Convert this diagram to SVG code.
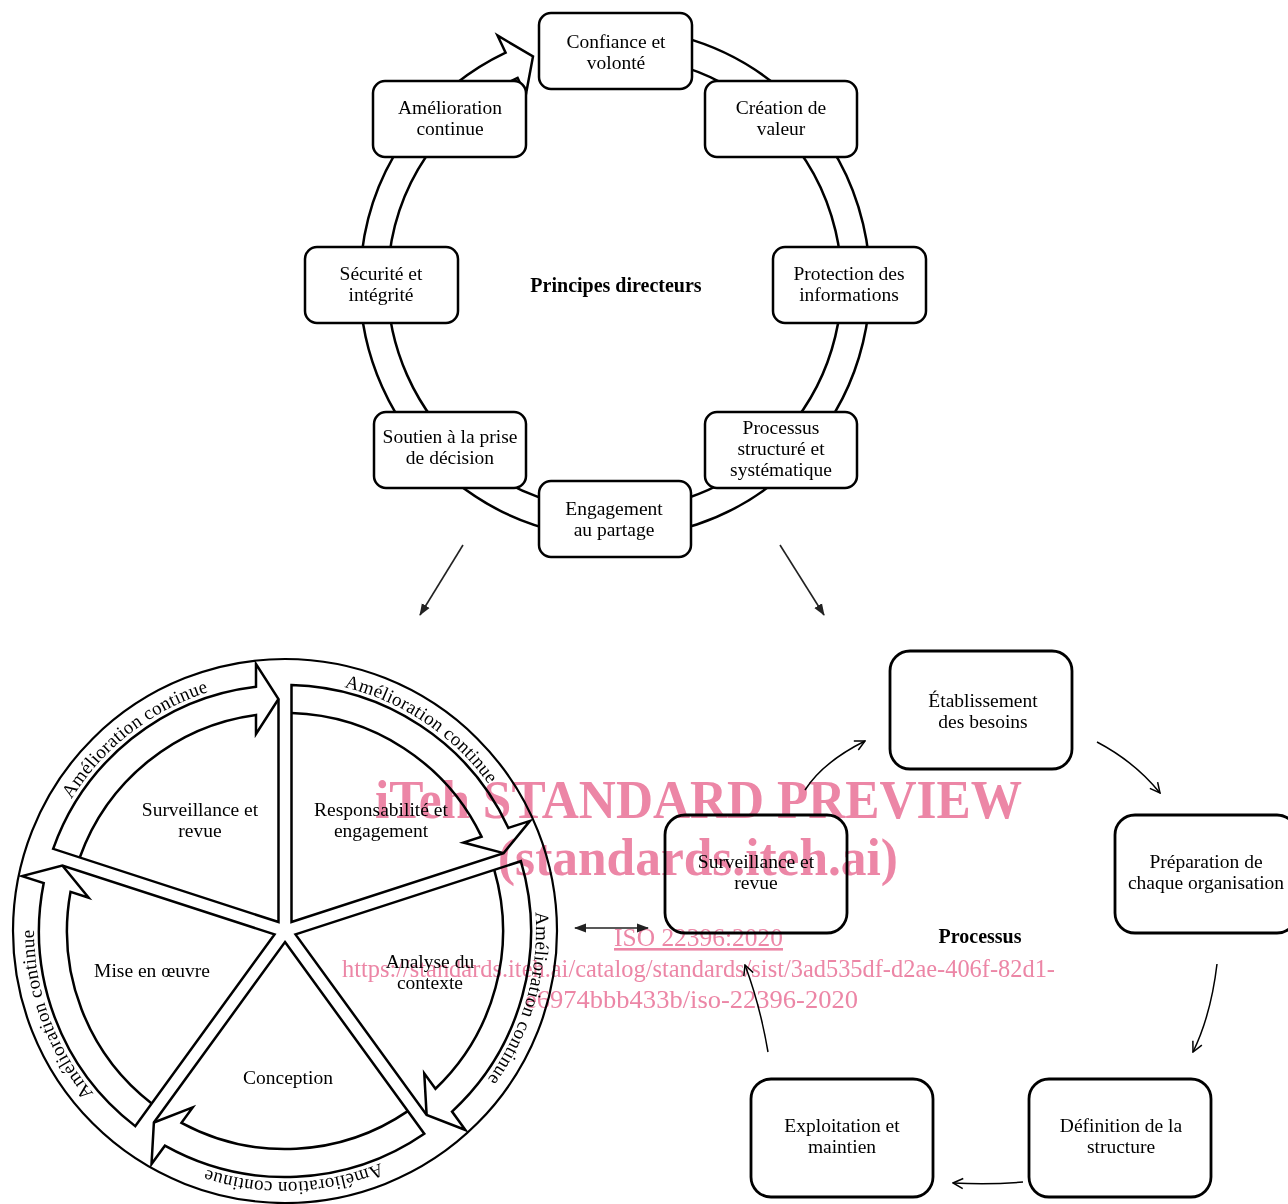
<svg xmlns="http://www.w3.org/2000/svg" xmlns:xlink="http://www.w3.org/1999/xlink" width="1288" height="1204" viewBox="0 0 1288 1204">
<style>
.box{fill:#fff;stroke:#000;stroke-width:2.5}
.pbox{fill:#fff;stroke:#000;stroke-width:2.8}
.lbl{font-family:"Liberation Serif",serif;font-size:19.5px;text-anchor:middle;fill:#000}
.bold{font-weight:bold;font-size:20px}
.ring{font-family:"Liberation Serif",serif;font-size:19px;letter-spacing:0.3px;fill:#000}
.pc{fill:#fff;stroke:#000;stroke-width:2.5;stroke-linejoin:miter}
.pl{fill:none;stroke:#000;stroke-width:2.5;stroke-linejoin:miter}
.conn{fill:none;stroke:#000;stroke-width:1.5}
.dk{fill:none;stroke:#222;stroke-width:1.6}
.wm{fill:#ec86a6;font-family:"Liberation Serif",serif;mix-blend-mode:multiply}
</style>
<defs>
<marker id="fa" viewBox="0 0 12 10" refX="11" refY="5" markerWidth="12" markerHeight="10" markerUnits="userSpaceOnUse" orient="auto-start-reverse"><path d="M0,0.5 L12,5 L0,9.5 Z" fill="#222"/></marker>
<marker id="oa" viewBox="0 0 12 12" refX="11" refY="6" markerWidth="12" markerHeight="12" markerUnits="userSpaceOnUse" orient="auto"><path d="M1,1 L11,6 L1,11" fill="none" stroke="#000" stroke-width="1.5"/></marker>
<g id="piece">
<path class="pc" d="M6.5,-8.95 L6.5,-245.91 A246,246 0 0,1 223.37,-103.07 L244.97,-110.09 L218.64,-77.87 Z"/>
<path class="pl" d="M6.5,-217.9 A218,218 0 0,1 196.53,-94.35 L178.4,-88.46 L218.64,-77.87"/>
</g>
<path id="rp1" d="M35.87,900.41 A251,251 0 0,1 315.59,681.87"/>
<path id="rp2" d="M237.11,684.61 A251,251 0 0,1 531.39,883.11"/>
<path id="rp3" d="M504.53,809.31 A251,251 0 0,1 406.69,1150.53"/>
<path id="rp4" d="M468.57,1102.18 A251,251 0 0,1 113.82,1114.57"/>
<path id="rp5" d="M178.92,1158.48 A251,251 0 0,1 57.52,824.92"/>
</defs>
<rect width="1288" height="1204" fill="#fff"/>

<!-- Top: guiding principles ring -->
<g id="principles-ring">
<path class="pc" d="M562.0,33.6 A255,255 0 1,1 505.6,52.7 L497.5,35.5 L533.0,56.4 L525.8,95.1 L517.6,77.9 A227,227 0 1,0 567.8,61.0 Z"/>
<text class="lbl bold" x="616" y="292">Principes directeurs</text>
</g>
<g id="n-confiance"><rect class="box" x="539" y="13" width="153" height="76" rx="12"/><text class="lbl" x="616" y="47.5">Confiance et<tspan x="616" dy="21">volonté</tspan></text></g>
<g id="n-creation"><rect class="box" x="705" y="81" width="152" height="76" rx="12"/><text class="lbl" x="781" y="113.5">Création de<tspan x="781" dy="21">valeur</tspan></text></g>
<g id="n-amelioration"><rect class="box" x="373" y="81" width="153" height="76" rx="12"/><text class="lbl" x="450" y="113.5">Amélioration<tspan x="450" dy="21">continue</tspan></text></g>
<g id="n-securite"><rect class="box" x="305" y="247" width="153" height="76" rx="12"/><text class="lbl" x="381" y="279.5">Sécurité et<tspan x="381" dy="21">intégrité</tspan></text></g>
<g id="n-protection"><rect class="box" x="773" y="247" width="153" height="76" rx="12"/><text class="lbl" x="849" y="279.5">Protection des<tspan x="849" dy="21">informations</tspan></text></g>
<g id="n-soutien"><rect class="box" x="374" y="412" width="152" height="76" rx="12"/><text class="lbl" x="450" y="442.5">Soutien à la prise<tspan x="450" dy="21">de décision</tspan></text></g>
<g id="n-processus-struct"><rect class="box" x="705" y="412" width="152" height="76" rx="12"/><text class="lbl" x="781" y="433.5">Processus<tspan x="781" dy="21.5">structuré et</tspan><tspan x="781" dy="21">systématique</tspan></text></g>
<g id="n-engagement"><rect class="box" x="539" y="481" width="152" height="76" rx="12"/><text class="lbl" x="614" y="514.5">Engagement<tspan x="614" dy="21">au partage</tspan></text></g>

<!-- Bottom-left: cycle -->
<g id="cycle">
<circle cx="285" cy="931" r="272" fill="#fff" stroke="#000" stroke-width="2.2"/>
<text class="ring"><textPath href="#rp1" startOffset="50%" text-anchor="middle">Amélioration continue</textPath></text>
<text class="ring"><textPath href="#rp2" startOffset="50%" text-anchor="middle">Amélioration continue</textPath></text>
<text class="ring"><textPath href="#rp3" startOffset="50%" text-anchor="middle">Amélioration continue</textPath></text>
<text class="ring"><textPath href="#rp4" startOffset="50%" text-anchor="middle">Amélioration continue</textPath></text>
<text class="ring"><textPath href="#rp5" startOffset="50%" text-anchor="middle">Amélioration continue</textPath></text>
</g>
<g id="c-responsabilite"><use href="#piece" transform="translate(285,931) rotate(0)"/><text class="lbl" x="381" y="816">Responsabilité et<tspan x="381" dy="21">engagement</tspan></text></g>
<g id="c-analyse"><use href="#piece" transform="translate(285,931) rotate(72)"/><text class="lbl" x="430" y="968">Analyse du<tspan x="430" dy="21">contexte</tspan></text></g>
<g id="c-conception"><use href="#piece" transform="translate(285,931) rotate(144)"/><text class="lbl" x="288" y="1084">Conception</text></g>
<g id="c-mise"><use href="#piece" transform="translate(285,931) rotate(216)"/><text class="lbl" x="152" y="977">Mise en œuvre</text></g>
<g id="c-surveillance"><use href="#piece" transform="translate(285,931) rotate(288)"/><text class="lbl" x="200" y="816">Surveillance et<tspan x="200" dy="21">revue</tspan></text></g>

<!-- Bottom-right: process -->
<g id="p-etablissement"><rect class="pbox" x="890" y="651" width="182" height="118" rx="20"/><text class="lbl" x="983" y="707">Établissement<tspan x="983" dy="21">des besoins</tspan></text></g>
<g id="p-preparation"><rect class="pbox" x="1115" y="815" width="182" height="118" rx="20"/><text class="lbl" x="1206" y="868">Préparation de<tspan x="1206" dy="21">chaque organisation</tspan></text></g>
<g id="p-definition"><rect class="pbox" x="1029" y="1079" width="182" height="118" rx="20"/><text class="lbl" x="1121" y="1132">Définition de la<tspan x="1121" dy="21">structure</tspan></text></g>
<g id="p-exploitation"><rect class="pbox" x="751" y="1079" width="182" height="118" rx="20"/><text class="lbl" x="842" y="1132">Exploitation et<tspan x="842" dy="21">maintien</tspan></text></g>
<g id="p-surveillance"><rect class="pbox" x="665" y="815" width="182" height="118" rx="20"/><text class="lbl" x="756" y="868">Surveillance et<tspan x="756" dy="21">revue</tspan></text></g>
<g id="p-title"><text class="lbl bold" x="980" y="943">Processus</text></g>

<!-- Connectors -->
<g id="connectors">
<path class="dk" d="M463,545 L420,615" marker-end="url(#fa)"/>
<path class="dk" d="M780,545 L824,615" marker-end="url(#fa)"/>
<path class="dk" d="M575,928 L648,928" marker-start="url(#fa)" marker-end="url(#fa)"/>
<path class="conn" d="M805,790 Q823,762 865,741" marker-end="url(#oa)"/>
<path class="conn" d="M1097,742 Q1135,762 1160,793" marker-end="url(#oa)"/>
<path class="conn" d="M1217,964 Q1211,1015 1193,1052" marker-end="url(#oa)"/>
<path class="conn" d="M1023,1182 Q990,1185 953,1183" marker-end="url(#oa)"/>
<path class="conn" d="M768,1052 Q760,1005 745,965" marker-end="url(#oa)"/>
</g>

<!-- Watermark -->
<g id="watermark">
<text class="wm" x="375" y="818" font-size="54" font-weight="bold" textLength="647" lengthAdjust="spacingAndGlyphs">iTeh STANDARD PREVIEW</text>
<text class="wm" x="498" y="875" font-size="52" font-weight="bold" textLength="400" lengthAdjust="spacingAndGlyphs">(standards.iteh.ai)</text>
<text class="wm" x="614" y="946" font-size="26" textLength="169" lengthAdjust="spacingAndGlyphs" text-decoration="underline">ISO 22396:2020</text>
<text class="wm" x="342" y="977" font-size="25" textLength="713" lengthAdjust="spacingAndGlyphs">https://standards.iteh.ai/catalog/standards/sist/3ad535df-d2ae-406f-82d1-</text>
<text class="wm" x="525" y="1008" font-size="25" textLength="333" lengthAdjust="spacingAndGlyphs">e6974bbb433b/iso-22396-2020</text>
</g>
</svg>
